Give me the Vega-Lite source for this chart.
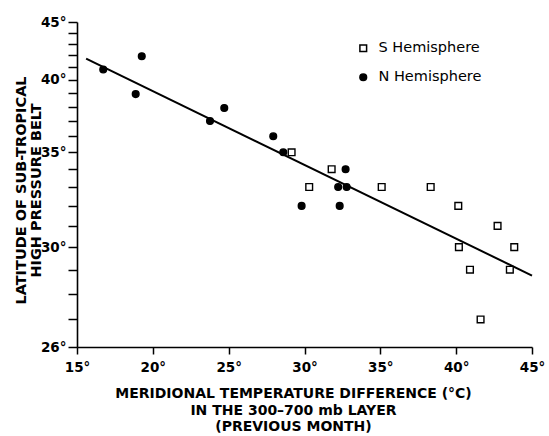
{
  "$schema": "https://vega.github.io/schema/vega-lite/v6.json",
  "width": 455,
  "height": 325,
  "autosize": {"type": "none"},
  "padding": {"left": 77, "top": 22, "right": 17, "bottom": 89},
  "background": "white",
  "config": {
    "view": {"stroke": null},
    "axis": {
      "grid": false,
      "domainColor": "black",
      "domainWidth": 1.6,
      "tickColor": "black",
      "tickWidth": 1.5,
      "labelColor": "black",
      "titleColor": "black",
      "labelFont": "DejaVu Sans",
      "labelFontSize": 13.5,
      "labelFontWeight": "bold",
      "titleFont": "DejaVu Sans",
      "titleFontWeight": "bold",
      "labelOverlap": false,
      "labelFlush": false
    },
    "legend": {
      "labelFont": "DejaVu Sans",
      "labelFontSize": 14.5,
      "labelColor": "black"
    }
  },
  "datasets": {
    "pts": [
      {"temp": 16.73, "lat": 40.8, "hemi": "N Hemisphere"},
      {"temp": 19.27, "lat": 41.9, "hemi": "N Hemisphere"},
      {"temp": 18.87, "lat": 38.9, "hemi": "N Hemisphere"},
      {"temp": 24.71, "lat": 37.9, "hemi": "N Hemisphere"},
      {"temp": 23.77, "lat": 37, "hemi": "N Hemisphere"},
      {"temp": 27.94, "lat": 36, "hemi": "N Hemisphere"},
      {"temp": 28.6, "lat": 35, "hemi": "N Hemisphere"},
      {"temp": 29.81, "lat": 32, "hemi": "N Hemisphere"},
      {"temp": 32.71, "lat": 34, "hemi": "N Hemisphere"},
      {"temp": 32.22, "lat": 33, "hemi": "N Hemisphere"},
      {"temp": 32.78, "lat": 33, "hemi": "N Hemisphere"},
      {"temp": 32.32, "lat": 32, "hemi": "N Hemisphere"},
      {"temp": 29.15, "lat": 35, "hemi": "S Hemisphere"},
      {"temp": 30.31, "lat": 33, "hemi": "S Hemisphere"},
      {"temp": 31.79, "lat": 34, "hemi": "S Hemisphere"},
      {"temp": 35.09, "lat": 33, "hemi": "S Hemisphere"},
      {"temp": 38.32, "lat": 33, "hemi": "S Hemisphere"},
      {"temp": 40.14, "lat": 32, "hemi": "S Hemisphere"},
      {"temp": 42.73, "lat": 31, "hemi": "S Hemisphere"},
      {"temp": 40.18, "lat": 30, "hemi": "S Hemisphere"},
      {"temp": 43.83, "lat": 30, "hemi": "S Hemisphere"},
      {"temp": 40.91, "lat": 29, "hemi": "S Hemisphere"},
      {"temp": 43.54, "lat": 29, "hemi": "S Hemisphere"},
      {"temp": 41.61, "lat": 27, "hemi": "S Hemisphere"}
    ],
    "fit": [
      {"temp": 15.6, "lat": 41.7},
      {"temp": 45, "lat": 28.75}
    ]
  },
  "encoding": {
    "x": {
      "field": "temp",
      "type": "quantitative",
      "scale": {"domain": [15, 45], "nice": false, "zero": false},
      "axis": {
        "values": [15, 20, 25, 30, 35, 40, 45],
        "labelExpr": "datum.value + '°'",
        "tickSize": 7,
        "labelPadding": 6,
        "title": ["MERIDIONAL TEMPERATURE DIFFERENCE (°C)", "IN THE 300–700 mb LAYER", "(PREVIOUS MONTH)"],
        "titleFontSize": 14,
        "titleLineHeight": 16.5,
        "titlePadding": 13,
        "titleX": 216
      }
    },
    "y": {
      "field": "lat",
      "type": "quantitative",
      "scale": {"type": "pow", "exponent": -0.85, "domain": [26, 45], "nice": false, "zero": false},
      "axis": {
        "values": [26, 27, 28, 29, 30, 31, 32, 33, 34, 35, 36, 37, 38, 39, 40, 41, 42, 43, 44, 45],
        "labelExpr": "indexof([26, 30, 35, 40, 45], datum.value) >= 0 ? datum.value + '°' : ''",
        "tickSize": 9,
        "labelPadding": 2,
        "title": ["LATITUDE OF SUB-TROPICAL", "HIGH PRESSURE BELT"],
        "titleFontSize": 14.5,
        "titleLineHeight": 14.5,
        "titlePadding": -3,
        "titleY": 168
      }
    }
  },
  "layer": [
    {
      "data": {"name": "fit"},
      "mark": {"type": "line", "color": "black", "strokeWidth": 2}
    },
    {
      "data": {"name": "pts"},
      "mark": {"type": "point", "size": 45, "strokeWidth": 1.4, "opacity": 1, "stroke": "black"},
      "encoding": {
        "shape": {
          "field": "hemi",
          "type": "nominal",
          "scale": {"domain": ["S Hemisphere", "N Hemisphere"], "range": ["square", "circle"]},
          "legend": {"title": null, "orient": "none", "legendX": 279, "legendY": 19, "rowPadding": 14, "labelOffset": 8, "symbolSize": 45, "padding": 0,
            "encode": {"symbols": {"update": {"stroke": {"value": "black"}, "strokeWidth": {"value": 1.4}}}}}
        },
        "fill": {
          "field": "hemi",
          "type": "nominal",
          "scale": {"domain": ["S Hemisphere", "N Hemisphere"], "range": ["white", "black"]},
          "legend": {"title": null, "orient": "none", "legendX": 279, "legendY": 19, "rowPadding": 14, "labelOffset": 8, "symbolSize": 45, "padding": 0,
            "encode": {"symbols": {"update": {"stroke": {"value": "black"}, "strokeWidth": {"value": 1.4}}}}}
        }
      }
    }
  ]
}
